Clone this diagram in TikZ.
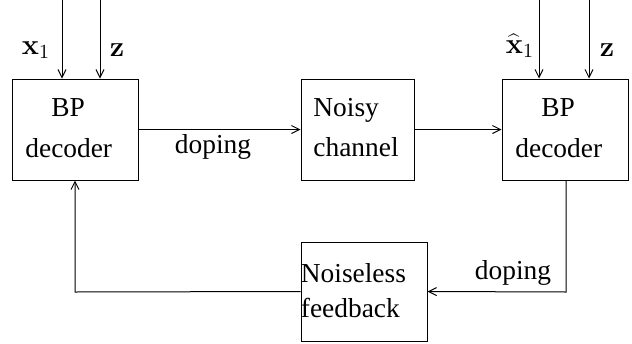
\documentclass[tikz,border=0pt]{standalone}
\usepackage[no-math]{fontspec}
\setmainfont{Liberation Serif}
\usetikzlibrary{arrows.meta}
\begin{document}
\begin{tikzpicture}[x=0.5pt,y=-0.5pt,
  every node/.style={font=\fontsize{13.7}{16}\selectfont, inner sep=0pt},
  blockbox/.style={draw, line width=0.5pt},
  wire/.style={line width=0.5pt},
  arr/.style={wire, -{Straight Barb[length=4pt,width=4pt,line width=0.5pt]}}]
\useasboundingbox (0,0) rectangle (632,343);
% blocks
\node[blockbox, minimum width=63pt, minimum height=50.5pt] (dec1) at (75,129.5) {};
\node[blockbox, minimum width=56.5pt, minimum height=50.5pt] (chan) at (357.5,129.5) {};
\node[blockbox, minimum width=63pt, minimum height=50.5pt] (dec2) at (565,129.5) {};
\node[blockbox, minimum width=63pt, minimum height=49.5pt] (fb) at (364,291.5) {};
% block texts
\node[anchor=west] (t1a) at (51,108) {BP};
\node[anchor=west] (t1b) at (25,148) {decoder};
\node[anchor=west] (t2a) at (313,110) {Noisy};
\node[anchor=west] (t2b) at (313,147) {channel};
\node[anchor=west] (t3a) at (541,108) {BP};
\node[anchor=west] (t3b) at (515,148) {decoder};
\node[anchor=west] (t4a) at (fb.west |- 0,273) {Noiseless};
\node[anchor=west] (t4b) at (fb.west |- 0,308) {feedback};
% inputs
\coordinate (i1) at (62,0);
\coordinate (i2) at (100,0);
\coordinate (i3) at (539,0);
\coordinate (i4) at (589,0);
\draw[arr] (i1) -- (i1 |- dec1.north);
\draw[arr] (i2) -- (i2 |- dec1.north);
\draw[arr] (i3) -- (i3 |- dec2.north);
\draw[arr] (i4) -- (i4 |- dec2.north);
\node (lx1) at (36,50) {$\mathbf{x}_1$};
\node (lz1) at (117,50) {$\mathbf{z}$};
\node (lx2) at (520,46) {$\widehat{\mathbf{x}}_1$};
\node (lz2) at (607,50) {$\mathbf{z}$};
% forward path
\draw[arr] (dec1.east) -- (chan.west);
\draw[arr] (chan.east) -- (dec2.west);
\node (dop1) at (213,147) {doping};
% feedback path
\coordinate (c1) at (566,292);
\coordinate (c2) at (75,292);
\draw[arr] (dec2.south -| c1) -- (c1) -- (fb.east);
\draw[arr] (fb.west) -- (c2) -- (dec1.south);
\node (dop2) at (513,273) {doping};
\end{tikzpicture}
\end{document}
